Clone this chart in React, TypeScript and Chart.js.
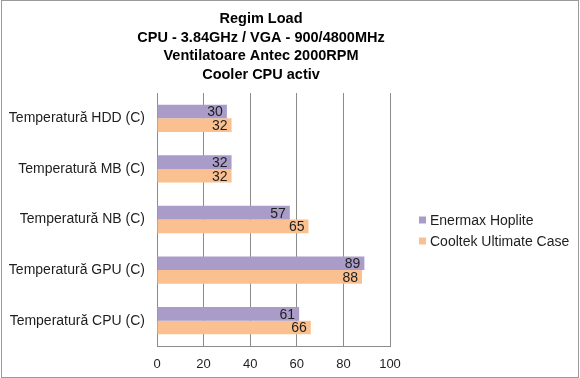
import React, { useEffect, useRef } from "react";
import { Chart, registerables } from "chart.js";

Chart.register(...registerables);

const categories = [
  "Temperatură HDD (C)",
  "Temperatură MB (C)",
  "Temperatură NB (C)",
  "Temperatură GPU (C)",
  "Temperatură CPU (C)",
];
const enermaxValues = [30, 32, 57, 89, 61];
const cooltekValues = [32, 32, 65, 88, 66];
const seriesNames = ["Enermax Hoplite", "Cooltek Ultimate Case"];
const seriesColors = ["#A99CC9", "#FAC08F"];
const titleLines = [
  "Regim Load",
  "CPU - 3.84GHz / VGA - 900/4800MHz",
  "Ventilatoare Antec 2000RPM",
  "Cooler CPU activ",
];
const xMin = 0;
const xMax = 100;
const xStep = 20;

const FONT = "'Liberation Sans', Arial, sans-serif";
const GRID = "#8c8c8c";
const TEXT = "#1e1e1e";

const decorPlugin = {
  id: "decor",
  beforeDraw(chart: any) {
    const { ctx, width, height } = chart;
    ctx.save();
    ctx.fillStyle = "#ffffff";
    ctx.fillRect(0, 0, width, height);
    ctx.restore();
  },
  afterDatasetsDraw(chart: any) {
    const { ctx } = chart;
    ctx.save();
    ctx.font = `14px ${FONT}`;
    ctx.fillStyle = TEXT;
    ctx.textAlign = "right";
    ctx.textBaseline = "middle";
    chart.data.datasets.forEach((ds: any, i: number) => {
      const meta = chart.getDatasetMeta(i);
      meta.data.forEach((el: any, j: number) => {
        ctx.fillText(String(ds.data[j]), el.x - 4, el.y + 1);
      });
    });
    ctx.restore();
  },
  afterDraw(chart: any) {
    const { ctx, width, height } = chart;
    ctx.save();
    // title
    ctx.font = `bold 14.5px ${FONT}`;
    ctx.fillStyle = "#000";
    ctx.textAlign = "center";
    ctx.textBaseline = "middle";
    titleLines.forEach((t, i) => {
      ctx.fillText(t, 261, 19 + i * 18.6);
    });
    // legend
    ctx.font = `14px ${FONT}`;
    ctx.textAlign = "left";
    chart.data.datasets.forEach((ds: any, i: number) => {
      const y = 220 + i * 21;
      ctx.fillStyle = ds.backgroundColor;
      ctx.fillRect(419, y - 3.5, 7, 7);
      ctx.fillStyle = TEXT;
      ctx.fillText(ds.label, 430, y + 1);
    });
    // outer frame
    ctx.strokeStyle = "#9a9a9a";
    ctx.lineWidth = 1;
    ctx.strokeRect(1.5, 0.5, width - 3, height - 1);
    ctx.restore();
  },
};

export default function App() {
  const ref = useRef<HTMLCanvasElement>(null);
  useEffect(() => {
    if (!ref.current) return;
    const chart = new Chart(ref.current, {
      type: "bar",
      data: {
        labels: categories,
        datasets: [
          {
            label: seriesNames[0],
            data: enermaxValues,
            backgroundColor: seriesColors[0],
            barPercentage: 1,
            categoryPercentage: 0.54,
          },
          {
            label: seriesNames[1],
            data: cooltekValues,
            backgroundColor: seriesColors[1],
            barPercentage: 1,
            categoryPercentage: 0.54,
          },
        ],
      },
      options: {
        indexAxis: "y",
        responsive: false,
        animation: false,
        layout: { padding: { left: 0, top: 93, right: 190, bottom: 0 } },
        plugins: {
          legend: { display: false },
          title: { display: false },
          tooltip: { enabled: false },
        },
        scales: {
          x: {
            min: xMin,
            max: xMax,
            ticks: {
              stepSize: xStep,
              color: TEXT,
              font: { family: FONT, size: 13 },
              padding: 11,
            },
            grid: { color: GRID, drawTicks: false },
            border: { color: GRID },
            afterFit: (s: any) => {
              s.height = 32;
            },
          },
          y: {
            ticks: {
              color: TEXT,
              font: { family: FONT, size: 14 },
              padding: 12,
            },
            grid: { display: false, drawTicks: false },
            border: { display: true, color: GRID },
            afterFit: (s: any) => {
              s.width = 157;
            },
          },
        },
      },
      plugins: [decorPlugin],
    } as any);
    return () => chart.destroy();
  }, []);
  return (
    <div style={{ position: "absolute", left: 0, top: 0, width: 580, height: 378 }}>
      <canvas ref={ref} width={580} height={378} />
    </div>
  );
}
